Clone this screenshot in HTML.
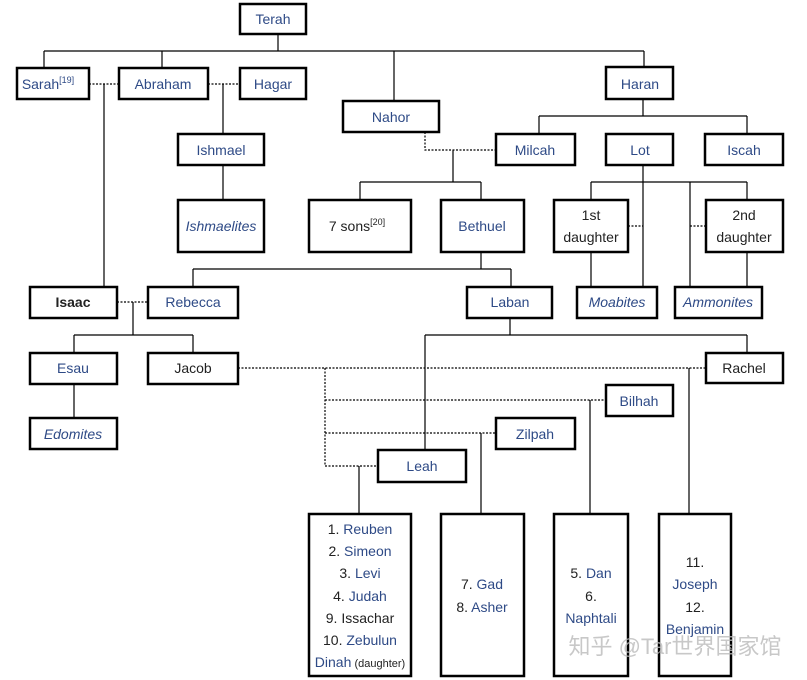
<!DOCTYPE html>
<html><head><meta charset="utf-8"><style>
html,body{margin:0;padding:0;background:#fff;}
svg{display:block;}
text{font-family:"Liberation Sans","Noto Sans CJK SC",sans-serif;font-size:14px;text-anchor:middle;}
.b{fill:#2e4a86;}
.k{fill:#222;}
.r{fill:#fff;stroke:#000;stroke-width:2.5;}
.l{stroke:#000;stroke-width:1.2;fill:none;}
.d{stroke:#000;stroke-width:1.2;fill:none;stroke-dasharray:2,1.5;}
</style></head><body>
<svg width="807" height="680" viewBox="0 0 807 680" xmlns="http://www.w3.org/2000/svg">
<!-- solid lines -->
<path class="l" d="M278 34V51 M44 51H644 M44 51V68 M162 51V68 M394 51V101 M644 51V67"/>
<path class="l" d="M104 84V287 M223 84V134 M223 165V200"/>
<path class="l" d="M453 150V182 M360 182H481 M360 182V200 M481 182V200"/>
<path class="l" d="M643 99V116 M539 116H747 M539 116V134 M747 116V134 M643 165V287 M591 182H747 M591 182V200 M747 182V200 M690 182V287 M591 252V287 M747 252V287"/>
<path class="l" d="M481 252V269 M193 269H511 M193 269V287 M511 269V287"/>
<path class="l" d="M133 302V335 M74 335H193 M74 335V353 M193 335V353 M74 384V418"/>
<path class="l" d="M510 318V335 M425 335H747 M747 335V353 M425 335V450"/>
<path class="l" d="M689 368V514 M590 400V514 M481 433V514 M359 466V514"/>
<!-- dotted -->
<path class="d" d="M89 84H119 M208 84H240 M425 132V150H496 M628 226H643 M690 226H706 M117 302H148"/>
<path class="d" d="M238 368H706 M325 368V466H378 M325 400H606 M325 433H496"/>
<!-- boxes -->
<rect class="r" x="240" y="4" width="66" height="30"/>
<rect class="r" x="17" y="68" width="72" height="31"/>
<rect class="r" x="119" y="68" width="89" height="31"/>
<rect class="r" x="240" y="68" width="66" height="31"/>
<rect class="r" x="343" y="101" width="96" height="31"/>
<rect class="r" x="606" y="67" width="67" height="32"/>
<rect class="r" x="178" y="134" width="86" height="31"/>
<rect class="r" x="496" y="134" width="79" height="31"/>
<rect class="r" x="606" y="134" width="67" height="31"/>
<rect class="r" x="705" y="134" width="78" height="31"/>
<rect class="r" x="178" y="200" width="86" height="52"/>
<rect class="r" x="309" y="200" width="102" height="52"/>
<rect class="r" x="441" y="200" width="83" height="52"/>
<rect class="r" x="554" y="200" width="74" height="52"/>
<rect class="r" x="706" y="200" width="77" height="52"/>
<rect class="r" x="30" y="287" width="87" height="31"/>
<rect class="r" x="148" y="287" width="90" height="31"/>
<rect class="r" x="467" y="287" width="85" height="31"/>
<rect class="r" x="577" y="287" width="80" height="31"/>
<rect class="r" x="675" y="287" width="87" height="31"/>
<rect class="r" x="30" y="353" width="87" height="31"/>
<rect class="r" x="148" y="353" width="90" height="31"/>
<rect class="r" x="706" y="353" width="77" height="30"/>
<rect class="r" x="606" y="385" width="67" height="31"/>
<rect class="r" x="30" y="418" width="87" height="31"/>
<rect class="r" x="496" y="418" width="79" height="31"/>
<rect class="r" x="378" y="450" width="88" height="32"/>
<rect class="r" x="309" y="514" width="102" height="162"/>
<rect class="r" x="441" y="514" width="83" height="162"/>
<rect class="r" x="554" y="514" width="74" height="162"/>
<rect class="r" x="659" y="514" width="72" height="162"/>
<!-- text -->
<text class="b" x="273" y="24">Terah</text>
<text class="b" x="48" y="89">Sarah<tspan font-size="9" dy="-6">[19]</tspan></text>
<text class="b" x="163" y="89">Abraham</text>
<text class="b" x="273" y="89">Hagar</text>
<text class="b" x="391" y="122">Nahor</text>
<text class="b" x="640" y="89">Haran</text>
<text class="b" x="221" y="155">Ishmael</text>
<text class="b" x="535" y="155">Milcah</text>
<text class="b" x="640" y="155">Lot</text>
<text class="b" x="744" y="155">Iscah</text>
<text class="b" x="221" y="231" font-style="italic">Ishmaelites</text>
<text class="k" x="357" y="231">7 sons<tspan font-size="9" dy="-6">[20]</tspan></text>
<text class="b" x="482" y="231">Bethuel</text>
<text class="k" x="591" y="220">1st</text>
<text class="k" x="591" y="242">daughter</text>
<text class="k" x="744" y="220">2nd</text>
<text class="k" x="744" y="242">daughter</text>
<text class="k" x="73" y="307" font-weight="bold">Isaac</text>
<text class="b" x="193" y="307">Rebecca</text>
<text class="b" x="510" y="307">Laban</text>
<text class="b" x="617" y="307" font-style="italic">Moabites</text>
<text class="b" x="718" y="307" font-style="italic">Ammonites</text>
<text class="b" x="73" y="373">Esau</text>
<text class="k" x="193" y="373">Jacob</text>
<text class="k" x="744" y="373">Rachel</text>
<text class="b" x="639" y="406">Bilhah</text>
<text class="b" x="73" y="439" font-style="italic">Edomites</text>
<text class="b" x="535" y="439">Zilpah</text>
<text class="b" x="422" y="471">Leah</text>
<text x="360" y="534"><tspan class="k">1. </tspan><tspan class="b">Reuben</tspan></text>
<text x="360" y="556"><tspan class="k">2. </tspan><tspan class="b">Simeon</tspan></text>
<text x="360" y="578"><tspan class="k">3. </tspan><tspan class="b">Levi</tspan></text>
<text x="360" y="601"><tspan class="k">4. </tspan><tspan class="b">Judah</tspan></text>
<text class="k" x="360" y="623">9. Issachar</text>
<text x="360" y="645"><tspan class="k">10. </tspan><tspan class="b">Zebulun</tspan></text>
<text x="360" y="667"><tspan class="b">Dinah</tspan><tspan class="k" font-size="11"> (daughter)</tspan></text>
<text x="482" y="589"><tspan class="k">7. </tspan><tspan class="b">Gad</tspan></text>
<text x="482" y="612"><tspan class="k">8. </tspan><tspan class="b">Asher</tspan></text>
<text x="591" y="578"><tspan class="k">5. </tspan><tspan class="b">Dan</tspan></text>
<text class="k" x="591" y="601">6.</text>
<text class="b" x="591" y="623">Naphtali</text>
<text class="k" x="695" y="567">11.</text>
<text class="b" x="695" y="589">Joseph</text>
<text class="k" x="695" y="612">12.</text>
<text class="b" x="695" y="634">Benjamin</text>
<text x="675" y="654" style="font-size:22px;fill:#bbb;opacity:0.8">知乎 @Tar世界国家馆</text>
</svg>
</body></html>
